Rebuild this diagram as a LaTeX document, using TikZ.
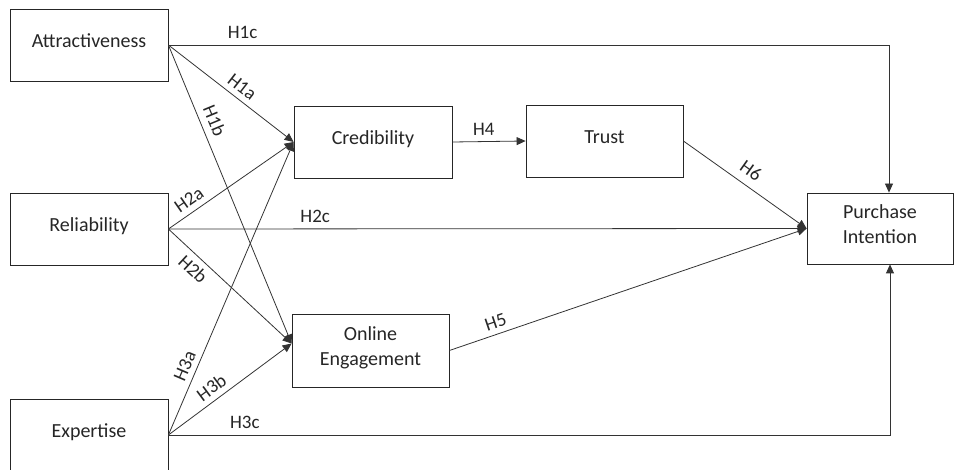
\documentclass[tikz,border=0pt]{standalone}
\usepackage{fontspec}
\setmainfont{Carlito}
\usetikzlibrary{arrows.meta}
\begin{document}
\begin{tikzpicture}[x=1pt,y=-1pt,
  box/.style={draw=black!85, line width=0.8pt, minimum width=158pt, minimum height=72pt,
    inner sep=0pt, align=center, font=\fontsize{20}{25}\selectfont, text=black!85,
    text height=14pt, text depth=9pt},
  twoline/.style={text height=39pt, text depth=8pt},
  conn/.style={draw=black!80, line width=0.8pt, -{Triangle[length=9pt,width=8pt]}},
  lbl/.style={font=\fontsize{19}{20}\selectfont, sloped, inner sep=5.5pt, text=black!85}]
\useasboundingbox (0,0) rectangle (954,470);
\node[box] (A) at (89,45) {Attractiveness};
\node[box] (R) at (89,229) {Reliability};
\node[box] (E) at (89,435) {Expertise};
\node[box] (C) at (373,142) {Credibility};
\node[box, minimum width=157pt] (T) at (604.5,141) {Trust};
\node[box, twoline, minimum width=157pt, minimum height=73pt] (O) at (370.5,350.5) {Online\\Engagement};
\node[box, twoline, minimum width=146pt, minimum height=71pt] (P) at (880,228.5) {Purchase\\Intention};
\coordinate (Oin) at ([yshift=7pt]O.west);
\coordinate (p1) at ([xshift=9pt]P.north);
\coordinate (p3) at ([xshift=10pt]P.south);
% H1
\draw[conn] (A.east) -- node[lbl, above, pos=0.103]{H1c} (A.east -| p1) -- (p1);
\draw[conn] (A.east) -- node[lbl, above, pos=0.53]{H1a} (C.west);
\draw[conn] (A.east) -- node[lbl, above, pos=0.27, inner sep=7pt]{H1b} (Oin);
% H2
\draw[conn] (R.east) -- node[lbl, above, pos=0.22]{H2a} (C.west);
\draw[conn] (R.east) -- node[lbl, below, pos=0.27]{H2b} (Oin);
\draw[conn] (R.east) -- node[lbl, above, pos=0.23]{H2c} (P.west);
% H3
\draw[conn] (E.east) -- node[lbl, above, pos=0.22]{H3a} (C.west);
\draw[conn] (E.east) -- node[lbl, above, pos=0.41]{H3b} (Oin);
\draw[conn] (E.east) -- node[lbl, above, pos=0.106]{H3c} (E.east -| p3) -- (p3);
% H4-H6
\draw[conn] (C.east) -- node[lbl, above, pos=0.43]{H4} (T.west);
\draw[conn] (O.east) -- node[lbl, above, pos=0.14]{H5} (P.west);
\draw[conn] (T.east) -- node[lbl, above, pos=0.48, inner sep=8pt]{H6} (P.west);
\end{tikzpicture}
\end{document}
